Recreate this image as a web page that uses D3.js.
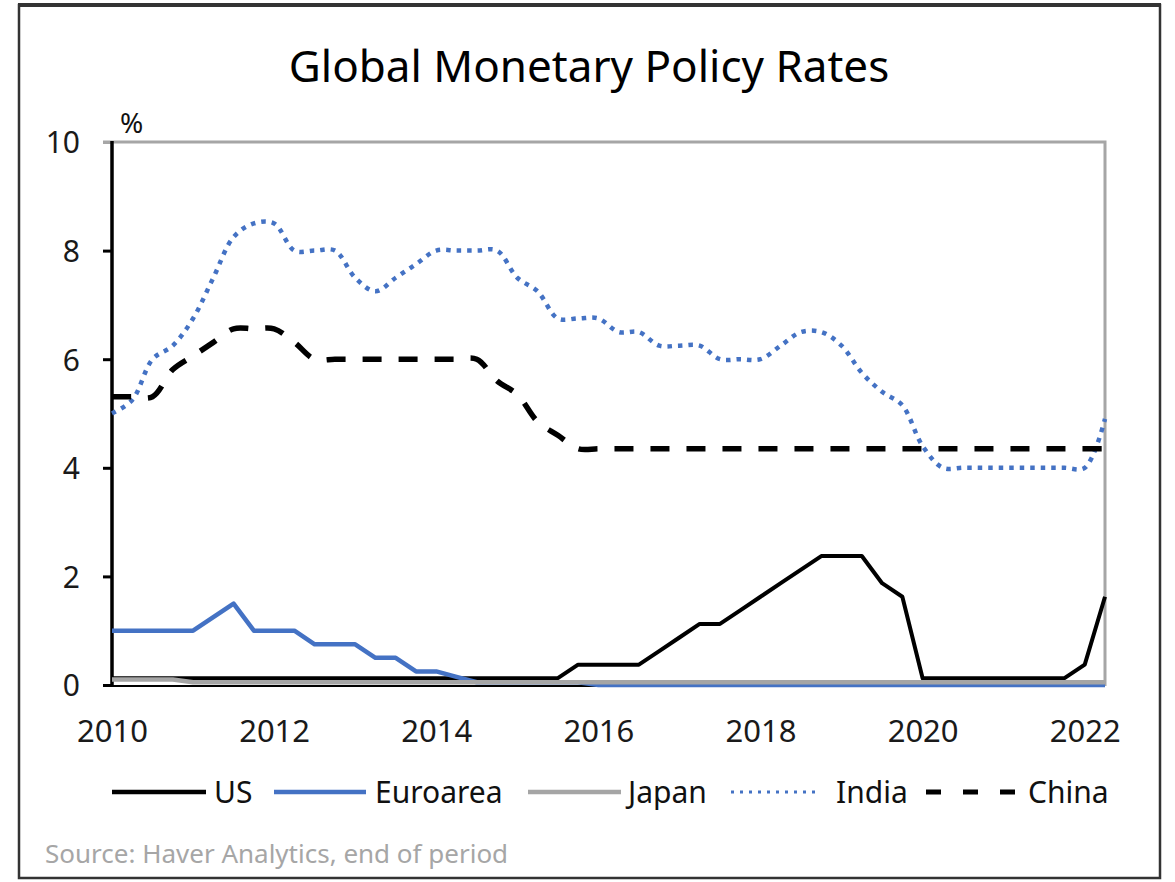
<!DOCTYPE html>
<html>
<head>
<meta charset="utf-8">
<script src="https://cdn.jsdelivr.net/npm/d3@7"></script>
<style>
  body { margin: 0; background: #fff; }
  svg { display: block; font-family: "Noto Sans", sans-serif; }
</style>
</head>
<body>
<div id="chart"></div>
<script>
// quarterly, end of period
var quarters = [
  "2010Q1", "2010Q2", "2010Q3", "2010Q4", "2011Q1", "2011Q2", "2011Q3", "2011Q4",
  "2012Q1", "2012Q2", "2012Q3", "2012Q4", "2013Q1", "2013Q2", "2013Q3", "2013Q4",
  "2014Q1", "2014Q2", "2014Q3", "2014Q4", "2015Q1", "2015Q2", "2015Q3", "2015Q4",
  "2016Q1", "2016Q2", "2016Q3", "2016Q4", "2017Q1", "2017Q2", "2017Q3", "2017Q4",
  "2018Q1", "2018Q2", "2018Q3", "2018Q4", "2019Q1", "2019Q2", "2019Q3", "2019Q4",
  "2020Q1", "2020Q2", "2020Q3", "2020Q4", "2021Q1", "2021Q2", "2021Q3", "2021Q4",
  "2022Q1", "2022Q2"
];

var us = [
  0.125, 0.125, 0.125, 0.125, 0.125, 0.125, 0.125, 0.125,
  0.125, 0.125, 0.125, 0.125, 0.125, 0.125, 0.125, 0.125,
  0.125, 0.125, 0.125, 0.125, 0.125, 0.125, 0.125, 0.375,
  0.375, 0.375, 0.375, 0.625, 0.875, 1.125, 1.125, 1.375,
  1.625, 1.875, 2.125, 2.375, 2.375, 2.375, 1.875, 1.625,
  0.125, 0.125, 0.125, 0.125, 0.125, 0.125, 0.125, 0.125,
  0.375, 1.625
];
var euro = [
  1.0, 1.0, 1.0, 1.0, 1.0, 1.25, 1.5, 1.0,
  1.0, 1.0, 0.75, 0.75, 0.75, 0.5, 0.5, 0.25,
  0.25, 0.15, 0.05, 0.05, 0.05, 0.05, 0.05, 0.05,
  0, 0, 0, 0, 0, 0, 0, 0,
  0, 0, 0, 0, 0, 0, 0, 0,
  0, 0, 0, 0, 0, 0, 0, 0,
  0, 0
];
var japan = [
  0.1, 0.1, 0.1, 0.1, 0.05, 0.05, 0.05, 0.05,
  0.05, 0.05, 0.05, 0.05, 0.05, 0.05, 0.05, 0.05,
  0.05, 0.05, 0.05, 0.05, 0.05, 0.05, 0.05, 0.05,
  0.05, 0.05, 0.05, 0.05, 0.05, 0.05, 0.05, 0.05,
  0.05, 0.05, 0.05, 0.05, 0.05, 0.05, 0.05, 0.05,
  0.05, 0.05, 0.05, 0.05, 0.05, 0.05, 0.05, 0.05,
  0.05, 0.05
];
var india = [
  5.0, 5.25, 6.0, 6.25, 6.75, 7.5, 8.25, 8.5,
  8.5, 8.0, 8.0, 8.0, 7.5, 7.25, 7.5, 7.75,
  8.0, 8.0, 8.0, 8.0, 7.5, 7.25, 6.75, 6.75,
  6.75, 6.5, 6.5, 6.25, 6.25, 6.25, 6.0, 6.0,
  6.0, 6.25, 6.5, 6.5, 6.25, 5.75, 5.4, 5.15,
  4.4, 4.0, 4.0, 4.0, 4.0, 4.0, 4.0, 4.0,
  4.0, 4.9
];
var china = [
  5.31, 5.31, 5.31, 5.81, 6.06, 6.31, 6.56, 6.56,
  6.56, 6.31, 6.0, 6.0, 6.0, 6.0, 6.0, 6.0,
  6.0, 6.0, 6.0, 5.6, 5.35, 4.85, 4.6, 4.35,
  4.35, 4.35, 4.35, 4.35, 4.35, 4.35, 4.35, 4.35,
  4.35, 4.35, 4.35, 4.35, 4.35, 4.35, 4.35, 4.35,
  4.35, 4.35, 4.35, 4.35, 4.35, 4.35, 4.35, 4.35,
  4.35, 4.35
];

var yearTicks = [2010, 2012, 2014, 2016, 2018, 2020, 2022];
var rateTicks = [0, 2, 4, 6, 8, 10];

var seriesNames = ["US", "Euroarea", "Japan", "India", "China"];

var width = 1175;
var height = 882;

var svg = d3
  .select("#chart")
  .append("svg")
  .attr("width", width)
  .attr("height", height);

// outer frame
svg.append("rect")
  .attr("x", 19).attr("y", 5)
  .attr("width", 1141).attr("height", 873)
  .attr("fill", "none")
  .attr("stroke", "#333")
  .attr("stroke-width", 2.5);
svg.append("line")
  .attr("x1", 18).attr("x2", 1161)
  .attr("y1", 5).attr("y2", 5)
  .attr("stroke", "#333")
  .attr("stroke-width", 4);

svg.append("text")
  .attr("x", 589)
  .attr("y", 82)
  .attr("text-anchor", "middle")
  .style("font-size", "44px")
  .style("fill", "#000")
  .text("Global Monetary Policy Rates");

// quarter label -> decimal year
function qToYear(q) {
  return +q.slice(0, 4) + (+q.slice(5) - 1) / 4;
}

var x = d3.scaleLinear()
  .domain([qToYear(quarters[0]), qToYear(quarters[quarters.length - 1])])
  .range([112, 1105]);
var y = d3.scaleLinear().domain([0, 10]).range([685, 142]);

// x axis baseline (black) under the series
svg.append("line")
  .attr("x1", x.range()[0]).attr("x2", x.range()[1])
  .attr("y1", y(0) + 1).attr("y2", y(0) + 1)
  .attr("stroke", "#000")
  .attr("stroke-width", 2);

// plot border top / right (gray)
svg.append("path")
  .attr("d", "M103," + y(10) + "H" + x.range()[1] + "V" + (y(0) + 1))
  .attr("fill", "none")
  .attr("stroke", "#a6a6a6")
  .attr("stroke-width", 3);

// y axis
var yAxis = svg.append("g")
  .attr("transform", "translate(112,0)")
  .call(d3.axisLeft(y).tickValues(rateTicks).tickSize(9).tickPadding(23));
yAxis.select(".domain").remove();
yAxis.selectAll(".tick line")
  .attr("stroke", (d) => (d === 10 ? "#a6a6a6" : "#000"))
  .attr("stroke-width", 3);
yAxis.selectAll(".tick text")
  .style("font-size", "30px")
  .style("font-family", "Noto Sans, sans-serif")
  .attr("dy", "0.36em")
  .attr("fill", "#1a1a1a");

svg.append("line")
  .attr("x1", 112).attr("x2", 112)
  .attr("y1", y(10) - 1).attr("y2", y(0) + 2)
  .attr("stroke", "#000")
  .attr("stroke-width", 3.5);

svg.append("text")
  .attr("x", 120)
  .attr("y", 133)
  .style("font-size", "28px")
  .style("fill", "#111")
  .text("%");

// x axis labels
var xAxis = svg.append("g")
  .attr("transform", "translate(0," + y(0) + ")")
  .call(d3.axisBottom(x).tickValues(yearTicks).tickSize(0).tickFormat(d3.format("d")));
xAxis.select(".domain").remove();
xAxis.selectAll(".tick text")
  .attr("y", 57)
  .attr("dy", 0)
  .style("font-size", "31px")
  .style("font-family", "Noto Sans, sans-serif")
  .attr("fill", "#1a1a1a");

// series
var styles = {
  US: { color: "#000000", width: 4, dash: null, curve: d3.curveLinear },
  Euroarea: { color: "#4472c4", width: 4.5, dash: null, curve: d3.curveLinear },
  Japan: { color: "#a5a5a5", width: 4.5, dash: null, curve: d3.curveLinear },
  India: { color: "#4472c4", width: 4.5, dash: "4.5 6", curve: d3.curveCatmullRom },
  China: { color: "#000000", width: 5.5, dash: "19 17", curve: d3.curveCatmullRom }
};
var values = { US: us, Euroarea: euro, Japan: japan, India: india, China: china };

seriesNames.forEach(function (name) {
  var s = styles[name];
  var line = d3.line()
    .x((d, i) => x(qToYear(quarters[i])))
    .y((d) => y(d))
    .curve(s.curve);
  svg.append("path")
    .datum(values[name])
    .attr("d", line)
    .attr("fill", "none")
    .attr("stroke", s.color)
    .attr("stroke-width", s.width)
    .attr("stroke-linejoin", "round")
    .attr("stroke-dasharray", s.dash);
});

// legend
var legendItems = [
  { name: "US", x1: 112, x2: 206, tx: 214, dash: null, w: 4.5 },
  { name: "Euroarea", x1: 274, x2: 366, tx: 375, dash: null, w: 4.5 },
  { name: "Japan", x1: 528, x2: 621, tx: 628, dash: null, w: 4.5 },
  { name: "India", x1: 731, x2: 817, tx: 836, dash: "3 6", w: 3 },
  { name: "China", x1: 926, x2: 1016, tx: 1028, dash: "15 22", w: 5 }
];
var legend = svg.selectAll(".legend")
  .data(legendItems)
  .enter()
  .append("g")
  .attr("class", "legend");
legend.append("line")
  .attr("x1", (d) => d.x1)
  .attr("x2", (d) => d.x2)
  .attr("y1", 792)
  .attr("y2", 792)
  .attr("stroke", (d) => styles[d.name].color)
  .attr("stroke-width", (d) => d.w)
  .attr("stroke-dasharray", (d) => d.dash);
legend.append("text")
  .attr("x", (d) => d.tx)
  .attr("y", 803)
  .style("font-size", "30px")
  .style("fill", "#111")
  .text((d) => d.name);

svg.append("text")
  .attr("x", 45)
  .attr("y", 863)
  .style("font-size", "26px")
  .style("fill", "#a6a6a6")
  .text("Source: Haver Analytics, end of period");
</script>
</body>
</html>
